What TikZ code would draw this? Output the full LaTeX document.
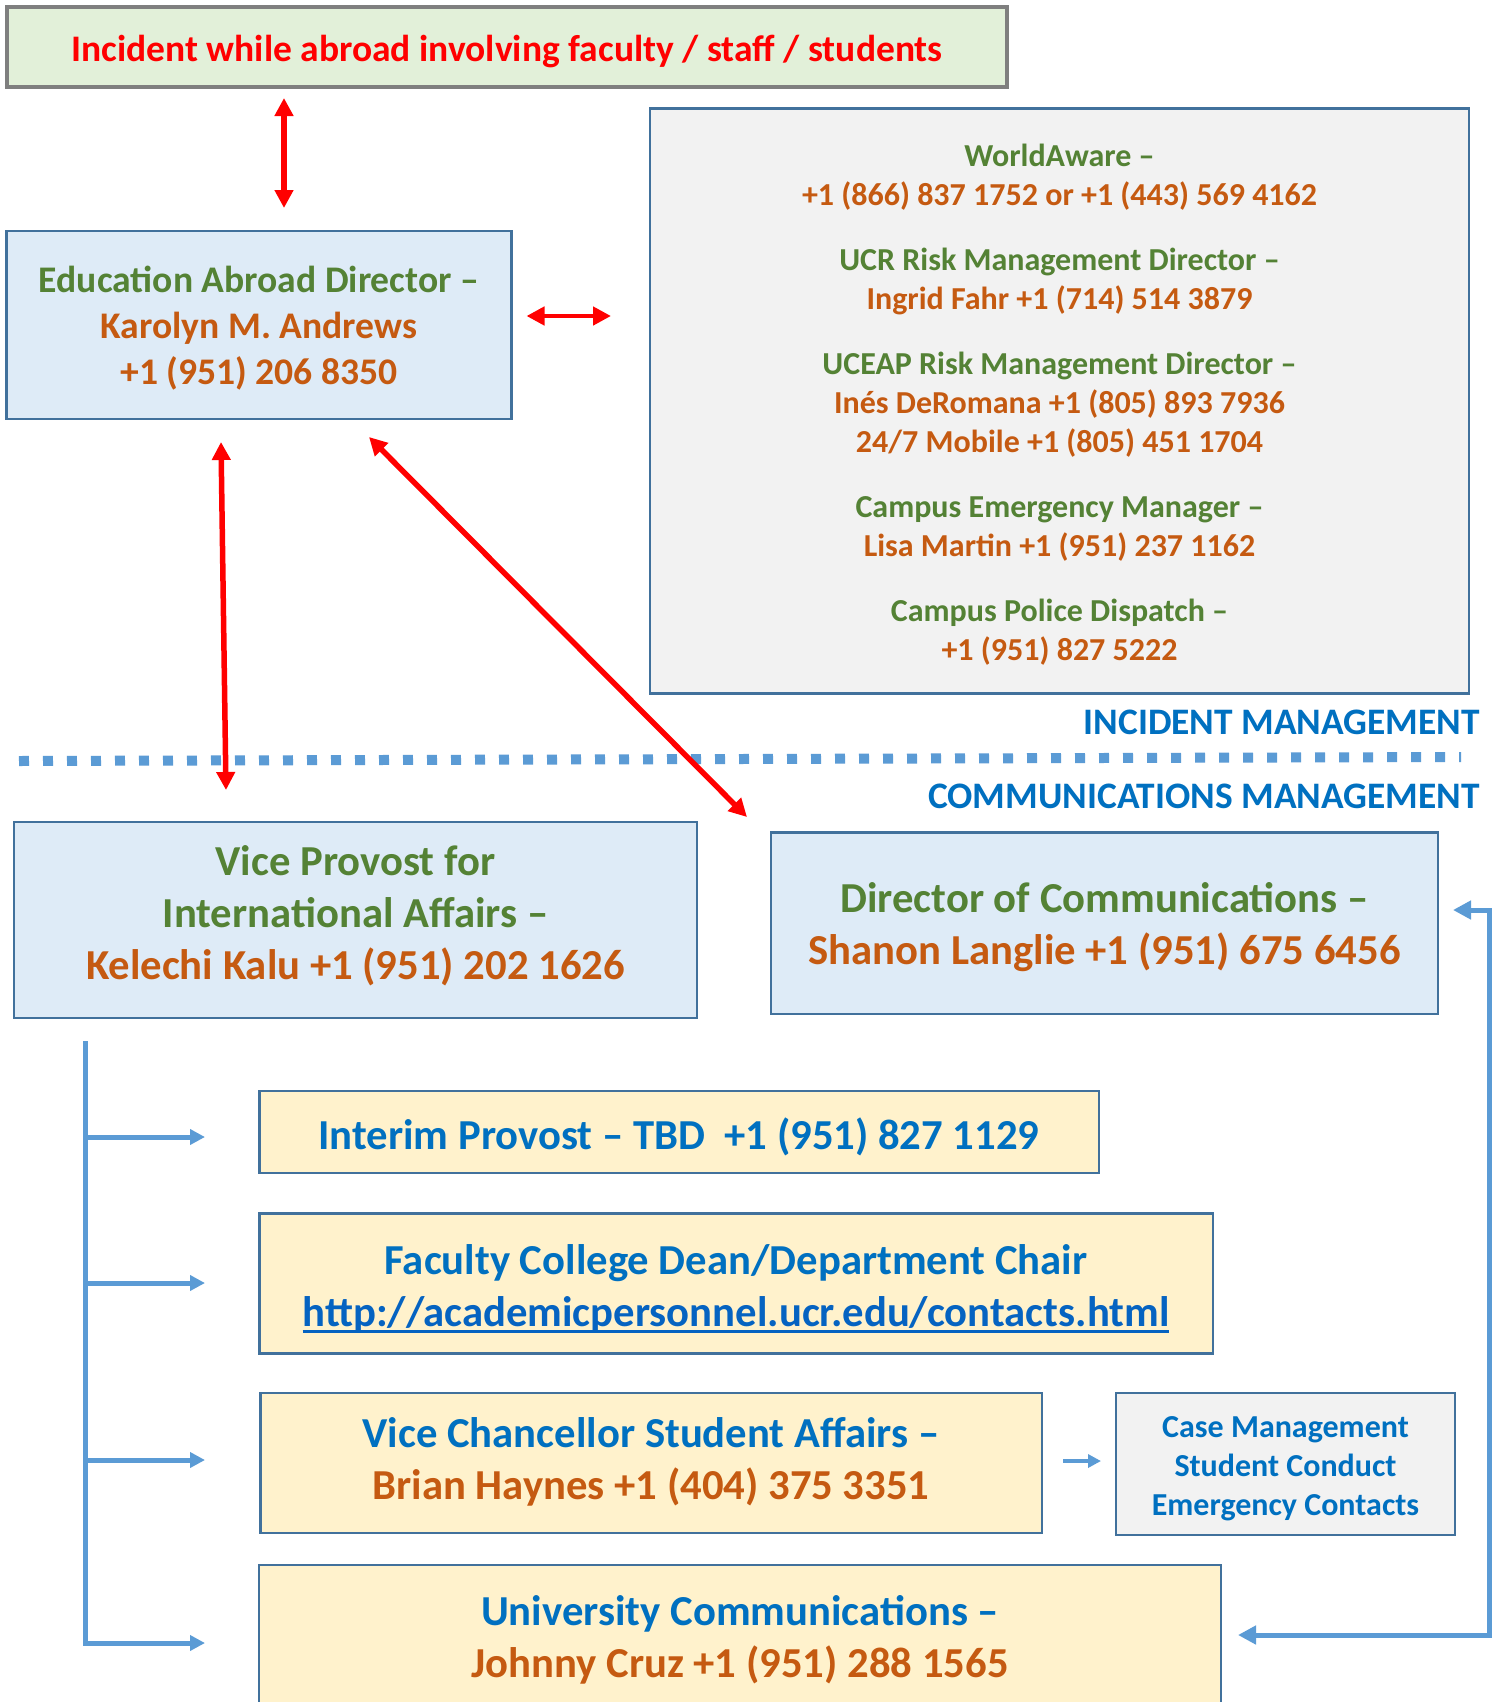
\documentclass[tikz,border=0pt]{standalone}
\usepackage{fontspec}
\setmainfont{Carlito}
\usetikzlibrary{arrows.meta}
\definecolor{tgreen}{HTML}{548235}
\definecolor{torange}{HTML}{C55A11}
\definecolor{tblue}{HTML}{0070C0}
\definecolor{ulblue}{HTML}{0563C1}
\definecolor{bordblue}{HTML}{41719C}
\definecolor{fillblue}{HTML}{DEEBF7}
\definecolor{fillyellow}{HTML}{FFF2CC}
\definecolor{fillgray}{HTML}{F2F2F2}
\definecolor{fillgreen}{HTML}{E2F0D9}
\definecolor{linegray}{HTML}{7F7F7F}
\definecolor{lineblue}{HTML}{5B9BD5}
\definecolor{arrred}{HTML}{FF0000}
\newcommand\urlul[1]{\setbox0\hbox{#1}\rlap{\color{ulblue}\rule[-7pt]{\wd0}{3pt}}\box0}
\tikzset{
  box/.style={draw=bordblue, line width=2.5pt, inner sep=0pt},
  txt/.style={inner sep=0pt, align=center},
  bigfont/.style={font=\bfseries\fontsize{42.7}{52}\selectfont},
  midfont/.style={font=\bfseries\fontsize{37.6}{46}\selectfont},
  smallfont/.style={font=\bfseries\fontsize{32}{39}\selectfont},
  labelfont/.style={font=\bfseries\fontsize{37.4}{44}\selectfont},
  redarr/.style={draw=arrred, line width=5.5pt, >={Triangle[length=18pt,width=18pt]}, <->},
  bluearr/.style={draw=lineblue, line width=5pt, >={Triangle[length=15pt,width=15pt]}, ->},
  backarr/.style={draw=lineblue, line width=5pt, >={Triangle[length=18pt,width=18pt]}, <->},
}
\begin{document}
\begin{tikzpicture}[x=1pt,y=-1pt]
\useasboundingbox (0,0) rectangle (1498,1702);
\clip (0,0) rectangle (1498,1702);
\fill[white] (0,0) rectangle (1498,1702);

% boxes
\node[box, draw=linegray, line width=4pt, fill=fillgreen, minimum width=1000pt, minimum height=80pt] (incident) at (507,47) {};
\node[txt, font=\bfseries\fontsize{37.5}{44}\selectfont, text=arrred] (incident-t) at ([yshift=-5pt]incident.center)
  {Incident while abroad involving faculty / staff / students};

\node[box, fill=fillblue, minimum width=505pt, minimum height=188pt] (edu) at (259,325) {};
\node[txt, midfont] (edu-t) at ([yshift=-3.5pt]edu.center)
  {\color{tgreen}Education Abroad Director –\\
   \color{torange}Karolyn M. Andrews\\
   \color{torange}+1 (951) 206 8350};

\node[box, fill=fillgray, minimum width=819pt, minimum height=585pt] (contacts) at (1059.5,401) {};
\node[txt, smallfont] (contacts-t) at ([yshift=-3.8pt]contacts.center)
  {\color{tgreen}WorldAware –\\
   \color{torange}+1 (866) 837 1752 or +1 (443) 569 4162\\[26pt]
   \color{tgreen}UCR Risk Management Director –\\
   \color{torange}Ingrid Fahr +1 (714) 514 3879\\[26pt]
   \color{tgreen}UCEAP Risk Management Director –\\
   \color{torange}Inés DeRomana +1 (805) 893 7936\\
   \color{torange}24/7 Mobile +1 (805) 451 1704\\[26pt]
   \color{tgreen}Campus Emergency Manager –\\
   \color{torange}Lisa Martin +1 (951) 237 1162\\[26pt]
   \color{tgreen}Campus Police Dispatch –\\
   \color{torange}+1 (951) 827 5222};

\node[box, fill=fillblue, minimum width=683pt, minimum height=196pt] (vp) at (355.5,920) {};
\node[txt, bigfont] (vp-t) at ([yshift=4.3pt]vp.center)
  {\color{tgreen}Vice Provost for\\
   \color{tgreen}International Affairs –\\
   \color{torange}Kelechi Kalu +1 (951) 202 1626};

\node[box, fill=fillblue, minimum width=667pt, minimum height=181.5pt] (dir) at (1104.5,923) {};
\node[txt, bigfont] (dir-t) at ([yshift=-4.3pt]dir.center)
  {\color{tgreen}Director of Communications –\\
   \color{torange}Shanon Langlie +1 (951) 675 6456};

\node[box, fill=fillyellow, minimum width=839.5pt, minimum height=82pt] (interim) at (679,1132) {};
\node[txt, bigfont, text=tblue] (interim-t) at ([yshift=-5pt]interim.center)
  {Interim Provost – TBD~~+1 (951) 827 1129};

\node[box, fill=fillyellow, minimum width=953.5pt, minimum height=140pt] (faculty) at (736,1283.6) {};
\node[txt, bigfont] (faculty-t) at ([yshift=-5.4pt]faculty.center)
  {\color{tblue}Faculty College Dean/Department Chair\\
   \color{ulblue}\urlul{http://academicpersonnel.ucr.edu/contacts.html}};

\node[box, fill=fillyellow, minimum width=781.5pt, minimum height=140pt] (vcsa) at (651,1463) {};
\node[txt, bigfont] (vcsa-t) at ([yshift=1.6pt]vcsa.center)
  {\color{tblue}Vice Chancellor Student Affairs –\\
   \color{torange}Brian Haynes +1 (404) 375 3351};

\node[box, fill=fillgray, minimum width=339pt, minimum height=142pt] (case) at (1285.5,1464) {};
\node[txt, smallfont, text=tblue] (case-t) at ([yshift=-4.3pt]case.center)
  {Case Management\\Student Conduct\\Emergency Contacts};

\node[box, fill=fillyellow, minimum width=962pt, minimum height=145pt] (univ) at (740,1637.5) {};
\node[txt, bigfont] (univ-t) at ([yshift=-2.2pt]univ.center)
  {\color{tblue}University Communications –\\
   \color{torange}Johnny Cruz +1 (951) 288 1565};

% section labels
\node[anchor=east, inner sep=0pt, labelfont, text=tblue] (imlabel) at (1480,722) {INCIDENT MANAGEMENT};
\node[anchor=east, inner sep=0pt, labelfont, text=tblue] (cmlabel) at (1480,796) {COMMUNICATIONS MANAGEMENT};

% divider
\coordinate (divl) at (19,761);
\coordinate (divr) at (1461,757);
\draw[lineblue, line width=10pt, dash pattern=on 10pt off 14pt] (divl) -- (divr);

% red arrows
\coordinate (r1a) at (284,98);    \coordinate (r1b) at (284,208);
\coordinate (r2a) at (526.5,316); \coordinate (r2b) at (611,316);
\coordinate (r3a) at (221,442);   \coordinate (r3b) at (226,790);
\coordinate (r4a) at (369,437);   \coordinate (r4b) at (747,817);
\draw[redarr] (r1a) -- (r1b);
\draw[redarr, line width=4.5pt] (r2a) -- (r2b);
\draw[redarr] (r3a) -- (r3b);
\draw[redarr] (r4a) -- (r4b);

% blue bracket
\coordinate (bt) at (85,1041);
\coordinate (bb) at (85,1643);
\coordinate (b1s) at (85,1137) ; \coordinate (b1e) at (205,1137);
\coordinate (b2s) at (85,1283) ; \coordinate (b2e) at (205,1283);
\coordinate (b3s) at (85,1460) ; \coordinate (b3e) at (205,1460);
\coordinate (b4e) at (205,1643);
\draw[bluearr] (bt) -- (bb) -- (b4e);
\draw[bluearr] (b1s) -- (b1e);
\draw[bluearr] (b2s) -- (b2e);
\draw[bluearr] (b3s) -- (b3e);

% small arrow to case management
\coordinate (sa) at (1063,1461); \coordinate (sb) at (1101,1461);
\draw[bluearr, line width=4pt, >={Triangle[length=13pt,width=13pt]}] (sa) -- (sb);

% feedback connector
\coordinate (ut) at (1238,1635);
\coordinate (rc) at (1489,1635);
\coordinate (dt) at (1453,910);
\draw[backarr] (ut) -- (rc) |- (dt);
\end{tikzpicture}
\end{document}
